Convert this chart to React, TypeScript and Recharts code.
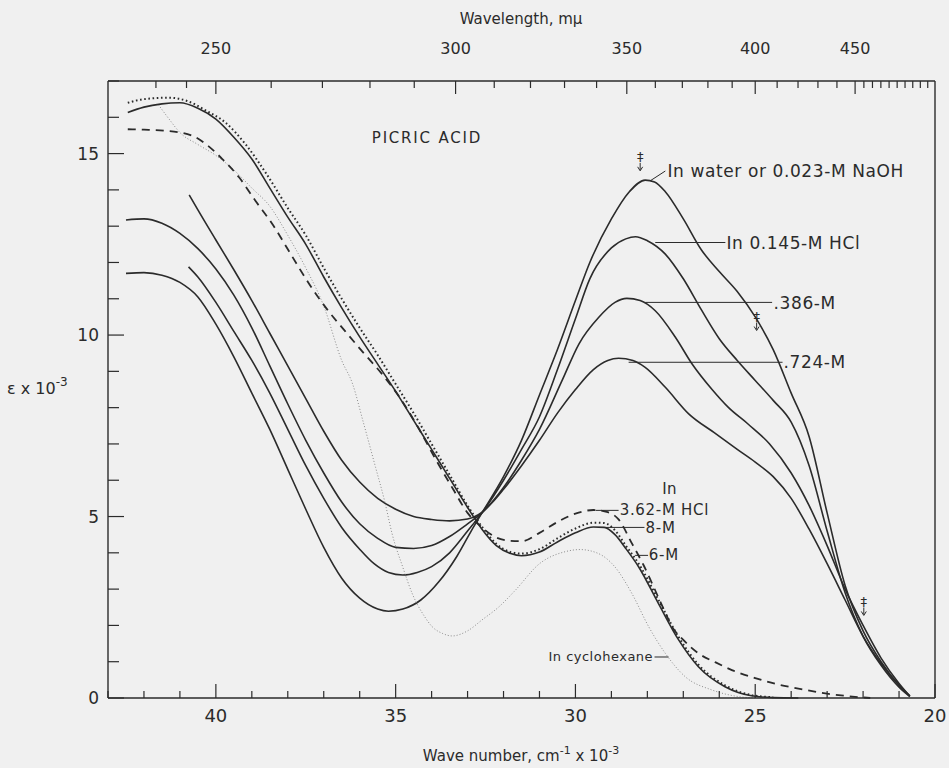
import React from 'react';
import { LineChart, Line, XAxis, YAxis, ReferenceLine, ReferenceDot } from 'recharts';

const FONT = '"DejaVu Sans", sans-serif';
const INK = '#2b2b2b';

// wave number in 10^3 cm^-1 and extinction coefficient in 10^3 units
const WATER_NU = [42.5, 42.0, 41.5, 41.0, 40.5, 40.0, 39.5, 39.0, 38.5, 38.0, 37.5, 37.0, 36.5, 36.0, 35.5, 35.2, 34.8, 34.3, 33.8, 33.3, 32.9, 32.6, 32.0, 31.5, 31.0, 30.5, 30.0, 29.6, 29.0, 28.5, 28.06, 27.8, 27.5, 27.0, 26.5, 26.0, 25.5, 25.0, 24.5, 24.0, 23.5, 23.0, 22.5, 22.0, 21.5, 21.0, 20.7];
const WATER_EPS = [11.7, 11.72, 11.65, 11.45, 11.05, 10.3, 9.4, 8.4, 7.4, 6.3, 5.2, 4.15, 3.3, 2.75, 2.45, 2.39, 2.45, 2.7, 3.2, 3.9, 4.6, 5.1, 6.1, 7.1, 8.35, 9.6, 10.95, 12.0, 13.2, 13.95, 14.27, 14.22, 13.95, 13.2, 12.35, 11.75, 11.2, 10.5, 9.6, 8.4, 7.2, 5.1, 3.1, 1.85, 1.0, 0.35, 0.05];

const HCL145_NU = [40.76, 40.5, 40.0, 39.5, 39.0, 38.5, 38.0, 37.5, 37.0, 36.5, 36.0, 35.6, 35.2, 34.8, 34.4, 34.0, 33.5, 33.0, 32.6, 32.0, 31.5, 31.0, 30.5, 30.0, 29.6, 29.0, 28.6, 28.33, 28.0, 27.5, 27.0, 26.5, 26.0, 25.5, 25.0, 24.5, 24.0, 23.5, 23.0, 22.5, 22.0, 21.5, 21.0, 20.7];
const HCL145_EPS = [11.88, 11.6, 10.9, 10.1, 9.3, 8.4, 7.4, 6.4, 5.5, 4.7, 4.1, 3.7, 3.46, 3.39, 3.46, 3.62, 4.0, 4.6, 5.1, 6.0, 6.85, 7.75, 9.05, 10.45, 11.55, 12.4, 12.65, 12.71, 12.6, 12.23, 11.55, 10.7, 9.9, 9.3, 8.75, 8.2, 7.6, 6.4, 4.6, 2.9, 1.7, 0.9, 0.3, 0.04];

const HCL386_NU = [42.5, 42.0, 41.5, 41.0, 40.5, 40.0, 39.5, 39.0, 38.5, 38.0, 37.5, 37.0, 36.5, 36.0, 35.5, 35.0, 34.5, 34.0, 33.5, 33.0, 32.6, 32.0, 31.5, 31.0, 30.37, 29.9, 29.35, 28.9, 28.57, 28.2, 27.78, 27.22, 26.76, 26.2, 25.74, 25.2, 24.6, 24.0, 23.5, 23.0, 22.5, 22.0, 21.5, 21.0, 20.7];
const HCL386_EPS = [13.17, 13.2, 13.08, 12.8, 12.38, 11.82, 11.1, 10.2, 9.15, 8.1, 7.1, 6.2, 5.4, 4.8, 4.4, 4.15, 4.12, 4.2, 4.45, 4.8, 5.1, 5.8, 6.55, 7.4, 8.75, 9.76, 10.49, 10.9, 11.01, 10.95, 10.67, 9.94, 9.21, 8.5, 8.0, 7.55, 7.0, 6.2, 5.3, 4.2, 3.0, 2.0, 1.1, 0.4, 0.05];

const HCL724_NU = [40.74, 40.5, 40.0, 39.5, 39.0, 38.5, 38.0, 37.5, 37.0, 36.5, 36.0, 35.5, 35.0, 34.5, 34.0, 33.5, 33.0, 32.7, 32.3, 32.0, 31.5, 31.0, 30.5, 30.0, 29.5, 29.1, 28.8, 28.4, 28.06, 27.5, 26.85, 26.14, 25.5, 25.0, 24.5, 24.0, 23.5, 23.0, 22.5, 22.0, 21.5, 21.0, 20.7];
const HCL724_EPS = [13.86, 13.45, 12.62, 11.8, 10.95, 10.05, 9.15, 8.25, 7.35, 6.55, 5.95, 5.5, 5.2, 5.0, 4.92, 4.88, 4.93, 5.05, 5.4, 5.75, 6.4, 7.1, 7.85, 8.5, 9.05, 9.3, 9.36, 9.3, 9.11, 8.56, 7.83, 7.31, 6.85, 6.5, 6.1, 5.5, 4.65, 3.7, 2.7, 1.7, 0.95, 0.35, 0.06];

const HCL362_NU = [42.45, 42.0, 41.4, 40.65, 40.2, 39.82, 39.35, 38.9, 38.43, 37.9, 37.4, 36.9, 36.4, 35.93, 35.4, 34.9, 34.4, 33.9, 33.4, 33.0, 32.6, 32.2, 31.8, 31.5, 31.0, 30.5, 30.0, 29.5, 29.1, 28.8, 28.43, 28.1, 27.87, 27.5, 27.31, 27.0, 26.58, 26.1, 25.65, 25.0, 24.4, 23.8, 23.0, 22.3, 21.8];
const HCL362_EPS = [15.67, 15.66, 15.63, 15.49, 15.2, 14.85, 14.34, 13.7, 13.06, 12.2, 11.4, 10.7, 10.1, 9.55, 8.95, 8.3, 7.5, 6.6, 5.75, 5.1, 4.7, 4.42, 4.33, 4.32, 4.55, 4.85, 5.08, 5.18, 5.12, 4.92, 4.26, 3.65, 3.16, 2.35, 1.96, 1.6, 1.23, 0.98, 0.77, 0.55, 0.38, 0.26, 0.12, 0.04, 0];

const HCL6_NU = [42.45, 42.0, 41.5, 41.0, 40.5, 40.0, 39.5, 39.0, 38.5, 38.0, 37.5, 37.0, 36.5, 36.0, 35.5, 35.0, 34.5, 34.0, 33.5, 33.0, 32.6, 32.2, 31.8, 31.5, 31.0, 30.5, 30.0, 29.5, 29.2, 28.9, 28.6, 28.24, 27.69, 27.13, 26.58, 25.84, 25.1, 24.5, 23.8];
const HCL6_EPS = [16.13, 16.28, 16.37, 16.4, 16.25, 15.95, 15.45, 14.85, 14.05, 13.25, 12.5, 11.6, 10.75, 9.95, 9.2, 8.45, 7.65, 6.85, 6.05, 5.25, 4.65, 4.2, 3.98, 3.92, 4.02, 4.3, 4.55, 4.71, 4.7, 4.5, 4.12, 3.61, 2.6, 1.6, 0.86, 0.31, 0.06, 0.01, 0];

const HCL8_NU = [42.45, 42.0, 41.3, 40.8, 40.3, 39.73, 39.17, 38.6, 38.0, 37.5, 37.0, 36.5, 36.0, 35.5, 35.0, 34.5, 34.0, 33.5, 33.0, 32.6, 32.2, 31.8, 31.5, 31.0, 30.5, 30.0, 29.5, 29.2, 28.9, 28.6, 28.24, 27.69, 27.13, 26.58, 25.84, 25.1, 24.5];
const HCL8_EPS = [16.4, 16.5, 16.54, 16.45, 16.2, 15.85, 15.25, 14.45, 13.5, 12.75, 11.85, 11.0, 10.2, 9.45, 8.65, 7.85, 7.0, 6.15, 5.3, 4.72, 4.25, 4.02, 3.98, 4.1, 4.4, 4.67, 4.83, 4.82, 4.62, 4.2, 3.7, 2.7, 1.68, 0.92, 0.35, 0.08, 0.02];

const CYCLO_NU = [41.6, 41.3, 41.0, 40.5, 40.0, 39.5, 39.0, 38.5, 38.0, 37.5, 37.0, 36.5, 36.2, 35.9, 35.56, 35.3, 35.1, 34.8, 34.54, 34.2, 33.98, 33.7, 33.43, 33.0, 32.6, 32.13, 31.67, 31.0, 30.29, 29.87, 29.36, 28.9, 28.43, 27.96, 27.5, 26.95, 26.2, 25.47, 25.0];
const CYCLO_EPS = [16.35, 15.95, 15.58, 15.25, 14.95, 14.55, 14.05, 13.55, 12.75, 11.85, 10.8, 9.3, 8.66, 7.6, 6.36, 5.4, 4.53, 3.6, 2.88, 2.25, 1.96, 1.78, 1.71, 1.85, 2.15, 2.51, 2.97, 3.7, 4.03, 4.09, 3.98, 3.61, 2.88, 1.96, 1.23, 0.59, 0.22, 0.04, 0];

const WAVENUMBER_TICKS = [20, 21, 22, 23, 24, 25, 26, 27, 28, 29, 30, 31, 32, 33, 34, 35, 36, 37, 38, 39, 40, 41, 42, 43];
const EPS_TICKS = [0, 1, 2, 3, 4, 5, 6, 7, 8, 9, 10, 11, 12, 13, 14, 15, 16, 17];
const WAVELENGTH_TICKS = [240, 245, 250, 260, 270, 280, 290, 300, 310, 320, 330, 340, 350, 360, 370, 380, 390, 400, 410, 420, 430, 440, 450, 455, 460, 465, 470, 475, 480, 485, 490, 495];
const WAVELENGTH_LABELS = [250, 300, 350, 400, 450];

const EPS_MAX = 17;
const PX_PER_EPS = 617 / EPS_MAX;

const toPoints = (nu: number[], eps: number[]) => nu.map((n, i) => ({ nu: n, eps: eps[i] }));

const series = [
  { key: 'water', data: toPoints(WATER_NU, WATER_EPS), stroke: INK, width: 1.6, dash: undefined },
  { key: 'hcl145', data: toPoints(HCL145_NU, HCL145_EPS), stroke: INK, width: 1.6, dash: undefined },
  { key: 'hcl386', data: toPoints(HCL386_NU, HCL386_EPS), stroke: INK, width: 1.6, dash: undefined },
  { key: 'hcl724', data: toPoints(HCL724_NU, HCL724_EPS), stroke: INK, width: 1.6, dash: undefined },
  { key: 'cyclo', data: toPoints(CYCLO_NU, CYCLO_EPS), stroke: '#8a8a8a', width: 1, dash: '1 2' },
  { key: 'hcl362', data: toPoints(HCL362_NU, HCL362_EPS), stroke: INK, width: 1.8, dash: '8 6' },
  { key: 'hcl8', data: toPoints(HCL8_NU, HCL8_EPS), stroke: INK, width: 2, dash: '1.6 2.6' },
  { key: 'hcl6', data: toPoints(HCL6_NU, HCL6_EPS), stroke: INK, width: 1.6, dash: undefined },
];

// annotation placement, in chart units
const notes = [
  { text: 'PICRIC ACID', nu: 34.13, eps: 15.43, anchor: 'middle', size: 15, spacing: 1.8 },
  { text: 'In water or 0.023-M NaOH', nu: 27.44, eps: 14.53, anchor: 'start', size: 17, spacing: 0.6 },
  { text: 'In 0.145-M HCl', nu: 25.8, eps: 12.55, anchor: 'start', size: 17, spacing: 0.6 },
  { text: '.386-M', nu: 24.49, eps: 10.88, anchor: 'start', size: 17, spacing: 0.6 },
  { text: '.724-M', nu: 24.21, eps: 9.25, anchor: 'start', size: 17, spacing: 0.6 },
  { text: 'In', nu: 27.38, eps: 5.76, anchor: 'middle', size: 15, spacing: 0.5 },
  { text: '3.62-M HCl', nu: 28.77, eps: 5.17, anchor: 'start', size: 15, spacing: 0.7 },
  { text: '8-M', nu: 28.05, eps: 4.68, anchor: 'start', size: 15, spacing: 0.7 },
  { text: '6-M', nu: 27.96, eps: 3.93, anchor: 'start', size: 15, spacing: 0.7 },
  { text: 'In cyclohexane', nu: 27.84, eps: 1.13, anchor: 'end', size: 13, spacing: 0.5 },
];

const leaders = [
  [27.92, 14.25, 27.5, 14.52],
  [27.78, 12.55, 25.83, 12.55],
  [28.06, 10.9, 24.53, 10.9],
  [28.52, 9.25, 24.24, 9.25],
  [29.44, 5.17, 28.8, 5.17],
  [29.17, 4.7, 28.08, 4.7],
  [28.34, 3.93, 27.98, 3.93],
  [27.8, 1.13, 27.41, 1.13],
];

const daggers = [
  { nu: 28.2, eps: 14.8 },
  { nu: 24.96, eps: 10.4 },
  { nu: 21.98, eps: 2.55 },
];

function BottomTick({ x, y, payload }: any) {
  const v = payload.value;
  const major = v % 5 === 0;
  return (
    <g>
      <line x1={x} y1={y} x2={x} y2={y - (major ? 14 : 7)} stroke={INK} strokeWidth={1.2} />
      {major && (
        <text x={x} y={y + 17} textAnchor="middle" dominantBaseline="central" fontSize={18} fill={INK} fontFamily={FONT}>
          {v}
        </text>
      )}
    </g>
  );
}

function LeftTick({ x, y, payload }: any) {
  const v = payload.value;
  const major = v % 5 === 0;
  return (
    <g>
      <line x1={x} y1={y} x2={x + (major ? 16 : 11)} y2={y} stroke={INK} strokeWidth={1.2} />
      {major && (
        <text x={x - 9} y={y} textAnchor="end" dominantBaseline="central" fontSize={17} fill={INK} fontFamily={FONT}>
          {v}
        </text>
      )}
    </g>
  );
}

function RightTick({ x, y }: any) {
  return <line x1={x} y1={y} x2={x - 11} y2={y} stroke={INK} strokeWidth={1.2} />;
}

export default function App() {
  return (
    <div style={{ position: 'absolute', left: 0, top: 0, width: 949, height: 768, background: '#f0f0f0', fontFamily: FONT }}>
      <LineChart width={949} height={768} margin={{ top: 31, right: 4, bottom: 40, left: 48 }}>
        <XAxis
          xAxisId="b"
          type="number"
          dataKey="nu"
          domain={[20, 43]}
          reversed
          ticks={WAVENUMBER_TICKS}
          interval={0}
          tickSize={0}
          tickMargin={0}
          height={30}
          tick={<BottomTick />}
          axisLine={{ stroke: INK, strokeWidth: 1.4 }}
          tickLine={false}
        />
        <XAxis
          xAxisId="t"
          orientation="top"
          type="number"
          domain={[20, 43]}
          reversed
          height={50}
          tick={false}
          axisLine={{ stroke: INK, strokeWidth: 1.4 }}
          tickLine={false}
        />
        <YAxis
          yAxisId="l"
          type="number"
          domain={[0, EPS_MAX]}
          ticks={EPS_TICKS}
          interval={0}
          tickSize={0}
          tickMargin={0}
          width={60}
          tick={<LeftTick />}
          axisLine={{ stroke: INK, strokeWidth: 1.4 }}
          tickLine={false}
        />
        <YAxis
          yAxisId="r"
          orientation="right"
          type="number"
          domain={[0, EPS_MAX]}
          ticks={EPS_TICKS}
          interval={0}
          tickSize={0}
          tickMargin={0}
          width={10}
          tick={<RightTick />}
          axisLine={{ stroke: INK, strokeWidth: 1.4 }}
          tickLine={false}
        />
        {/* wavelength scale along the top edge, placed at nu = 10^4 / lambda */}
        {WAVELENGTH_TICKS.map((l) => {
          const major = WAVELENGTH_LABELS.includes(l);
          return (
            <ReferenceLine
              key={`w${l}`}
              xAxisId="b"
              yAxisId="l"
              segment={[
                { x: 10000 / l, y: EPS_MAX },
                { x: 10000 / l, y: EPS_MAX - (major ? 13 : 7) / PX_PER_EPS },
              ]}
              stroke={INK}
              strokeWidth={1.2}
              ifOverflow="visible"
            />
          );
        })}
        {WAVELENGTH_LABELS.map((l) => (
          <ReferenceDot
            key={`wl${l}`}
            xAxisId="b"
            yAxisId="l"
            x={10000 / l}
            y={EPS_MAX}
            r={0}
            ifOverflow="visible"
            shape={(p: any) => (
              <text x={p.cx} y={p.cy - 33} textAnchor="middle" dominantBaseline="central" fontSize={16} fill={INK} fontFamily={FONT}>
                {l}
              </text>
            )}
          />
        ))}
        {series.map((s) => (
          <Line
            key={s.key}
            xAxisId="b"
            yAxisId="l"
            data={s.data}
            dataKey="eps"
            type="monotone"
            dot={false}
            activeDot={false}
            stroke={s.stroke}
            strokeWidth={s.width}
            strokeDasharray={s.dash}
            isAnimationActive={false}
          />
        ))}
        {leaders.map(([x1, y1, x2, y2], i) => (
          <ReferenceLine
            key={`l${i}`}
            xAxisId="b"
            yAxisId="l"
            segment={[{ x: x1, y: y1 }, { x: x2, y: y2 }]}
            stroke={INK}
            strokeWidth={1}
            ifOverflow="visible"
          />
        ))}
        {notes.map((n) => (
          <ReferenceDot
            key={n.text}
            xAxisId="b"
            yAxisId="l"
            x={n.nu}
            y={n.eps}
            r={0}
            ifOverflow="visible"
            shape={(p: any) => (
              <text
                x={p.cx}
                y={p.cy}
                textAnchor={n.anchor as any}
                dominantBaseline="central"
                fontSize={n.size}
                letterSpacing={n.spacing}
                fill={INK}
                fontFamily={FONT}
              >
                {n.text}
              </text>
            )}
          />
        ))}
        {daggers.map((d, i) => (
          <ReferenceDot
            key={`d${i}`}
            xAxisId="b"
            yAxisId="l"
            x={d.nu}
            y={d.eps}
            r={0}
            ifOverflow="visible"
            shape={(p: any) => (
              <g>
                <text x={p.cx} y={p.cy - 4} textAnchor="middle" dominantBaseline="central" fontSize={13} fill={INK} fontFamily={FONT}>
                  ‡
                </text>
                <line x1={p.cx} y1={p.cy + 2} x2={p.cx} y2={p.cy + 9} stroke={INK} strokeWidth={1} />
                <path d={`M${p.cx - 2.5},${p.cy + 6} L${p.cx},${p.cy + 10} L${p.cx + 2.5},${p.cy + 6}`} fill="none" stroke={INK} strokeWidth={1} />
              </g>
            )}
          />
        ))}
      </LineChart>
      <svg width={949} height={768} style={{ position: 'absolute', left: 0, top: 0, pointerEvents: 'none' }}>
        <text x={521} y={19} textAnchor="middle" dominantBaseline="central" fontSize={15} fill={INK} fontFamily={FONT}>
          Wavelength, mμ
        </text>
        <text x={521} y={756} textAnchor="middle" dominantBaseline="central" fontSize={15} fill={INK} fontFamily={FONT}>
          Wave number, cm
          <tspan dy={-6} fontSize={11}>-1</tspan>
          <tspan dy={6}> x 10</tspan>
          <tspan dy={-6} fontSize={11}>-3</tspan>
        </text>
        <text x={7} y={388} dominantBaseline="central" fontSize={16} fill={INK} fontFamily={FONT}>
          ε x 10
          <tspan dy={-6} fontSize={12}>-3</tspan>
        </text>
      </svg>
    </div>
  );
}
